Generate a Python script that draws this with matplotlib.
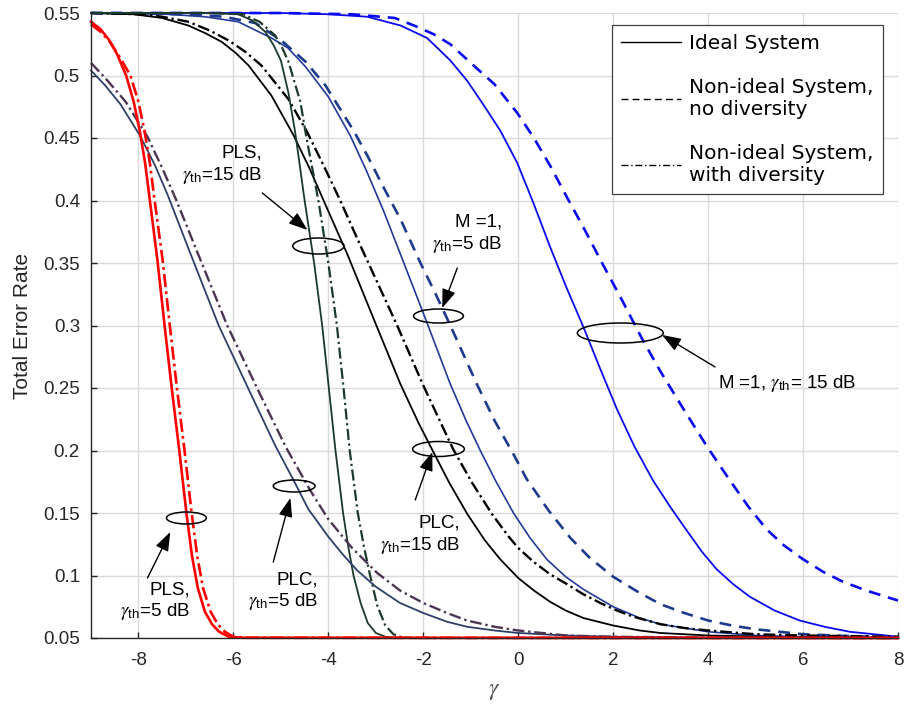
import matplotlib
matplotlib.use('Agg')
import matplotlib.pyplot as plt
from matplotlib.patches import Ellipse
from matplotlib.lines import Line2D

plt.rcParams['font.family'] = ['Liberation Sans', 'DejaVu Sans']
plt.rcParams['mathtext.fontset'] = 'stix'

# ---------------- data ----------------
x_ticks = [-8, -6, -4, -2, 0, 2, 4, 6, 8]
x_tick_labels = ['-8', '-6', '-4', '-2', '0', '2', '4', '6', '8']
y_ticks = [0.05, 0.1, 0.15, 0.2, 0.25, 0.3, 0.35, 0.4, 0.45, 0.5, 0.55]
y_tick_labels = ['0.05', '0.1', '0.15', '0.2', '0.25', '0.3', '0.35', '0.4', '0.45', '0.5', '0.55']

# M=1, gamma_th = 15 dB
m1_15_ideal_x = [-9, -5, -4, -3.18, -2.48, -1.92, -1.43, -1.08, -0.74, -0.38, -0.02, 0.33, 0.67, 1.02, 1.37, 1.72,
                 2.08, 2.45, 2.84, 3.2, 3.55, 3.87, 4.18, 4.53, 4.88, 5.4, 5.93, 6.45, 6.98, 7.5, 8]
m1_15_ideal_y = [0.55, 0.55, 0.549, 0.547, 0.54, 0.53, 0.512, 0.496, 0.477, 0.456, 0.43, 0.397, 0.363, 0.33, 0.299, 0.266,
                 0.233, 0.203, 0.176, 0.155, 0.136, 0.119, 0.105, 0.093, 0.083, 0.072, 0.064, 0.059, 0.055, 0.053, 0.051]
m1_15_nodiv_x = [-9, -5, -3.5, -2.6, -2.13, -1.78, -1.43, -0.94, -0.5, -0.02, 0.33, 0.67, 1.02, 1.38, 1.78, 2.19,
                 2.6, 3.0, 3.5, 3.98, 4.46, 4.85, 5.23, 5.6, 6.0, 6.42, 6.84, 7.33, 7.83, 8]
m1_15_nodiv_y = [0.55, 0.55, 0.549, 0.546, 0.539, 0.533, 0.525, 0.508, 0.493, 0.47, 0.45, 0.428, 0.403, 0.378, 0.349, 0.32,
                 0.29, 0.263, 0.232, 0.203, 0.176, 0.155, 0.137, 0.124, 0.113, 0.103, 0.095, 0.088, 0.082, 0.080]

# M=1, gamma_th = 5 dB
m1_5_ideal_x = [-9, -7.4, -6.6, -5.9, -5.2, -4.85, -4.48, -4.0, -3.54, -3.2, -2.84, -2.44, -1.92, -1.43, -1.1, -0.8,
                -0.48, -0.1, 0.25, 0.6, 1.0, 1.37, 2.0, 2.56, 3.0, 3.5, 4.0, 5.0, 6.0, 8.0]
m1_5_ideal_y = [0.55, 0.549, 0.547, 0.543, 0.53, 0.522, 0.507, 0.483, 0.452, 0.424, 0.392, 0.353, 0.302, 0.253, 0.224, 0.20,
                0.176, 0.15, 0.13, 0.113, 0.099, 0.089, 0.075, 0.066, 0.061, 0.058, 0.055, 0.052, 0.051, 0.0502]
m1_5_nodiv_x = [-9, -7.0, -6.2, -5.54, -4.99, -4.48, -4.06, -3.47, -3.18, -2.83, -2.48, -2.06, -1.75, -1.43, -0.87, -0.5,
                -0.1, 0.18, 0.64, 1.1, 1.51, 2.0, 2.56, 3.0, 3.5, 4.0, 4.5, 5.0, 6.0, 7.0, 8.0]
m1_5_nodiv_y = [0.55, 0.549, 0.547, 0.542, 0.528, 0.511, 0.492, 0.456, 0.436, 0.41, 0.385, 0.35, 0.326, 0.30, 0.253, 0.224,
                0.197, 0.177, 0.152, 0.13, 0.114, 0.099, 0.086, 0.077, 0.07, 0.064, 0.06, 0.057, 0.053, 0.0515, 0.0505]

# PLC, gamma_th = 15 dB
plc15_ideal_x = [-9, -8.1, -7.5, -6.95, -6.6, -6.25, -5.95, -5.68, -5.2, -4.73, -4.4, -4.1, -3.6, -3.01, -2.48, -2.1,
                 -1.75, -1.45, -1.07, -0.7, -0.38, 0.0, 0.33, 0.67, 1.0, 1.37, 2.0, 2.56, 3.0, 4.0, 6.0, 8.0]
plc15_ideal_y = [0.55, 0.549, 0.546, 0.54, 0.534, 0.527, 0.518, 0.508, 0.484, 0.452, 0.426, 0.40, 0.357, 0.302, 0.253, 0.222,
                 0.196, 0.174, 0.149, 0.128, 0.113, 0.098, 0.088, 0.079, 0.072, 0.066, 0.06, 0.056, 0.054, 0.052, 0.0505, 0.050]
plc15_div_x = [-9, -8.0, -7.5, -6.95, -6.5, -6.1, -5.75, -5.41, -4.84, -4.45, -4.1, -3.75, -3.29, -2.55, -2.0, -1.68,
               -1.37, -0.97, -0.55, -0.2, 0.0, 0.32, 0.67, 1.03, 1.37, 1.73, 2.08, 2.43, 3.0, 3.5, 4.0, 5.0, 6.0, 8.0]
plc15_div_y = [0.55, 0.549, 0.547, 0.543, 0.536, 0.528, 0.519, 0.508, 0.481, 0.455, 0.428, 0.40, 0.361, 0.30, 0.252, 0.226,
               0.201, 0.174, 0.149, 0.131, 0.122, 0.111, 0.101, 0.093, 0.085, 0.078, 0.072, 0.067, 0.061, 0.058, 0.056, 0.053, 0.052, 0.051]

# PLS, gamma_th = 15 dB
pls15_ideal_x = [-9, -6.5, -5.9, -5.6, -5.33, -5.15, -5.0, -4.84, -4.7, -4.5, -4.3, -4.13, -3.99, -3.85, -3.69, -3.58,
                 -3.47, -3.32, -3.17, -3.0, -2.8, -2.5, 8]
pls15_ideal_y = [0.55, 0.55, 0.549, 0.544, 0.535, 0.524, 0.512, 0.486, 0.455, 0.40, 0.35, 0.30, 0.25, 0.20, 0.15, 0.123,
                 0.10, 0.078, 0.062, 0.054, 0.051, 0.05, 0.05]
pls15_div_x = [-9, -6.5, -5.8, -5.45, -5.12, -4.97, -4.84, -4.59, -4.46, -4.21, -4.0, -3.82, -3.68, -3.55, -3.38, -3.25,
               -3.12, -2.97, -2.8, -2.63, -2.45, -2.2, 8]
pls15_div_y = [0.55, 0.55, 0.549, 0.543, 0.532, 0.522, 0.511, 0.479, 0.45, 0.40, 0.35, 0.30, 0.25, 0.20, 0.15, 0.123,
               0.10, 0.076, 0.06, 0.053, 0.0505, 0.05, 0.05]

# PLC, gamma_th = 5 dB
plc5_ideal_x = [-9, -8.7, -8.38, -7.97, -7.65, -7.38, -6.9, -6.31, -5.68, -5.12, -4.73, -4.42, -4.0, -3.7, -3.39, -3.0,
                -2.49, -2.0, -1.5, -1.08, -0.5, 0.0, 1.0, 2.0, 4.0, 8.0]
plc5_ideal_y = [0.504, 0.492, 0.477, 0.452, 0.428, 0.404, 0.357, 0.30, 0.249, 0.204, 0.176, 0.153, 0.131, 0.117, 0.104, 0.091,
                0.078, 0.07, 0.063, 0.059, 0.056, 0.054, 0.052, 0.051, 0.0502, 0.05]
plc5_div_x = [-9, -8.7, -8.27, -7.81, -7.5, -7.2, -6.7, -6.13, -5.49, -4.9, -4.38, -4.0, -3.5, -2.97, -2.49, -2.0,
              -1.5, -1.08, -0.5, 0.0, 1.0, 2.0, 4.0, 8.0]
plc5_div_y = [0.51, 0.498, 0.479, 0.451, 0.426, 0.40, 0.353, 0.30, 0.249, 0.203, 0.168, 0.145, 0.122, 0.102, 0.088, 0.078,
              0.07, 0.064, 0.059, 0.056, 0.052, 0.051, 0.0503, 0.05]

# PLS, gamma_th = 5 dB
pls5_ideal_x = [-9, -8.8, -8.63, -8.45, -8.26, -8.1, -7.97, -7.86, -7.76, -7.6, -7.45, -7.3, -7.14, -6.99, -6.87, -6.75,
                -6.6, -6.45, -6.3, -6.1, -5.8, 8]
pls5_ideal_y = [0.543, 0.537, 0.529, 0.517, 0.50, 0.479, 0.455, 0.43, 0.40, 0.352, 0.30, 0.25, 0.20, 0.15, 0.115, 0.09,
                0.071, 0.061, 0.055, 0.051, 0.0502, 0.05]
pls5_div_x = [-9, -8.8, -8.6, -8.4, -8.17, -8.0, -7.87, -7.76, -7.66, -7.49, -7.34, -7.19, -7.03, -6.88, -6.76, -6.64,
              -6.48, -6.33, -6.18, -6.0, -5.7, 8]
pls5_div_y = [0.541, 0.535, 0.527, 0.515, 0.50, 0.479, 0.455, 0.43, 0.40, 0.352, 0.30, 0.25, 0.20, 0.15, 0.115, 0.09,
              0.071, 0.061, 0.055, 0.051, 0.0502, 0.05]

legend_labels = ['Ideal System', 'Non-ideal System,\nno diversity', 'Non-ideal System,\nwith diversity']

# ---------------- styles ----------------
DASH = (4.5, 3.0)
DASHDOT = (5.0, 1.6, 1.0, 1.6)

series = [
    (m1_15_ideal_x, m1_15_ideal_y, dict(color='#0A0AF0', lw=1.3)),
    (m1_15_nodiv_x, m1_15_nodiv_y, dict(color='#0A0AF0', lw=1.9, dashes=DASH)),
    (m1_5_ideal_x, m1_5_ideal_y, dict(color='#23399A', lw=1.2)),
    (m1_5_nodiv_x, m1_5_nodiv_y, dict(color='#1E3A8C', lw=1.9, dashes=DASH)),
    (plc15_ideal_x, plc15_ideal_y, dict(color='#000000', lw=1.3)),
    (plc15_div_x, plc15_div_y, dict(color='#000000', lw=1.7, dashes=DASHDOT)),
    (pls15_ideal_x, pls15_ideal_y, dict(color='#1C3A2A', lw=1.3)),
    (pls15_div_x, pls15_div_y, dict(color='#1C3A2A', lw=1.6, dashes=DASHDOT)),
    (plc5_ideal_x, plc5_ideal_y, dict(color='#2F3F6A', lw=1.3)),
    (plc5_div_x, plc5_div_y, dict(color='#4C3552', lw=1.7, dashes=DASHDOT)),
    (pls5_ideal_x, pls5_ideal_y, dict(color='#FF0000', lw=1.9)),
    (pls5_div_x, pls5_div_y, dict(color='#FF0000', lw=1.9, dashes=DASHDOT)),
]

fig = plt.figure(figsize=(9.05, 7.07), dpi=100)
ax = fig.add_axes([91 / 905, 1 - 638 / 707, (898 - 91) / 905, (638 - 13) / 707])

for xs, ys, st in series:
    ax.plot(xs, ys, clip_on=False, solid_joinstyle='round', dash_joinstyle='round', **st)

ax.set_xlim(-9, 8)
ax.set_ylim(0.05, 0.55)
ax.set_xticks(x_ticks)
ax.set_xticklabels(x_tick_labels)
ax.set_yticks(y_ticks)
ax.set_yticklabels(y_tick_labels)
ax.grid(True, color='#DADADA', lw=1.0)
ax.set_axisbelow(True)
for s in ['top', 'right']:
    ax.spines[s].set_visible(False)
for s in ['left', 'bottom']:
    ax.spines[s].set_color('#262626')
    ax.spines[s].set_linewidth(1.0)
ax.tick_params(axis='both', direction='in', length=4, width=1.0, colors='#262626', labelsize=13.5)
ax.tick_params(axis='x', pad=10)
ax.tick_params(axis='y', pad=8)

ax.set_ylabel('Total Error Rate', fontsize=15, color='#262626', labelpad=8)
ax.set_xlabel(r'$\gamma$', fontsize=17, color='#505050', labelpad=8)

# ---------------- annotations ----------------
tfs = 13.5
g = r'$\gamma_{\mathregular{th}}$'
ax.text(-5.39, 0.4284, 'PLS,\n' + g + '=15 dB', ha='right', va='center', multialignment='right', fontsize=tfs)
ax.text(-0.337, 0.373, 'M =1,\n' + g + '=5 dB', ha='right', va='center', multialignment='right', fontsize=tfs)
ax.text(4.21, 0.254, 'M =1, ' + g + '= 15 dB', ha='left', va='center', fontsize=tfs)
ax.text(-1.22, 0.1324, 'PLC,\n' + g + '=15 dB', ha='right', va='center', multialignment='right', fontsize=tfs)
ax.text(-4.21, 0.0868, 'PLC,\n' + g + '=5 dB', ha='right', va='center', multialignment='right', fontsize=tfs)
ax.text(-6.905, 0.0788, 'PLS,\n' + g + '=5 dB', ha='right', va='center', multialignment='right', fontsize=tfs)

ellipses = [(-4.21, 0.3636, 1.08, 0.0128), (-1.68, 0.3076, 1.05, 0.0112), (2.15, 0.294, 1.81, 0.016),
            (-1.68, 0.2012, 1.09, 0.012), (-4.72, 0.1716, 0.88, 0.0096), (-6.99, 0.146, 0.84, 0.0096)]
for cx, cy, w, h in ellipses:
    ax.add_patch(Ellipse((cx, cy), w, h, fill=False, ec='black', lw=1.1, zorder=5))

arrows = [((-5.39, 0.406), (-4.44, 0.3764)), ((-1.284, 0.346), (-1.6, 0.314)), ((4.147, 0.2668), (3.03, 0.2924)),
          ((-2.17, 0.1604), (-1.81, 0.1988)), ((-5.16, 0.1108), (-4.8, 0.162)), ((-7.81, 0.098), (-7.33, 0.1348))]
for tail, tip in arrows:
    ax.annotate('', xy=tip, xytext=tail,
                arrowprops=dict(arrowstyle='-|>,head_length=1.15,head_width=0.42', color='black', lw=1.0,
                                shrinkA=0, shrinkB=0), zorder=6)

# ---------------- legend ----------------
handles = [Line2D([], [], color='black', lw=1.0),
           Line2D([], [], color='black', lw=1.0, dashes=(5, 3)),
           Line2D([], [], color='black', lw=1.0, dashes=(5, 2, 1, 2))]
leg = ax.legend(handles, legend_labels, loc='upper right', bbox_to_anchor=(0.981, 0.981), borderaxespad=0,
                prop={'family': 'DejaVu Sans', 'size': 14.5}, handlelength=3.0, handletextpad=0.4,
                labelspacing=1.25, borderpad=0.45, fancybox=False, framealpha=1.0, edgecolor='#404040')
leg.get_frame().set_linewidth(0.9)

fig.savefig('out.png', dpi=100)
